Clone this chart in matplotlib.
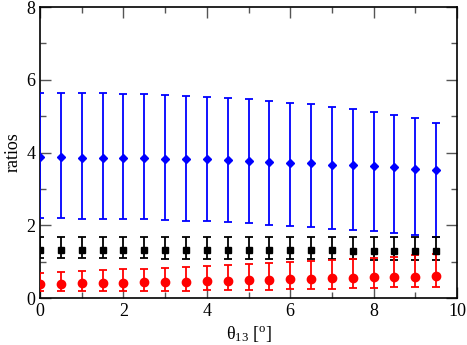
import numpy as np
import matplotlib
matplotlib.use('Agg')
import matplotlib.pyplot as plt
from matplotlib.ticker import MultipleLocator

plt.rcParams['font.family'] = ['Liberation Serif', 'DejaVu Serif']
plt.rcParams['mathtext.fontset'] = 'custom'
plt.rcParams['mathtext.rm'] = 'Liberation Serif'
plt.rcParams['mathtext.it'] = 'Liberation Serif:italic'

# theta_13 in degrees
theta = [0, 0.5, 1, 1.5, 2, 2.5, 3, 3.5, 4, 4.5, 5, 5.5, 6, 6.5, 7, 7.5, 8, 8.5, 9, 9.5]

# blue diamonds
blue_val = [3.87, 3.87, 3.86, 3.86, 3.85, 3.84, 3.83, 3.82, 3.81, 3.79,
            3.77, 3.75, 3.72, 3.70, 3.67, 3.65, 3.62, 3.59, 3.55, 3.51]
blue_hi = [5.64, 5.64, 5.64, 5.63, 5.62, 5.60, 5.58, 5.56, 5.53, 5.50,
           5.46, 5.42, 5.37, 5.32, 5.26, 5.20, 5.12, 5.04, 4.94, 4.80]
blue_lo = [2.19, 2.19, 2.18, 2.18, 2.17, 2.16, 2.15, 2.13, 2.11, 2.08,
           2.05, 2.02, 1.98, 1.94, 1.90, 1.87, 1.84, 1.80, 1.74, 1.68]

# black squares
black_val = [1.33, 1.33, 1.33, 1.33, 1.33, 1.33, 1.33, 1.32, 1.32, 1.32,
             1.32, 1.32, 1.31, 1.31, 1.31, 1.30, 1.30, 1.30, 1.29, 1.29]
black_hi = [1.68, 1.68, 1.68, 1.68, 1.68, 1.68, 1.68, 1.68, 1.68, 1.68,
            1.68, 1.68, 1.68, 1.68, 1.68, 1.68, 1.68, 1.68, 1.68, 1.68]
black_lo = [1.09, 1.09, 1.09, 1.09, 1.09, 1.09, 1.08, 1.08, 1.08, 1.08,
            1.07, 1.07, 1.07, 1.06, 1.06, 1.06, 1.05, 1.05, 1.04, 1.04]

# red circles
red_val = [0.38, 0.39, 0.40, 0.41, 0.42, 0.43, 0.44, 0.45, 0.47, 0.48,
           0.49, 0.50, 0.51, 0.53, 0.54, 0.55, 0.57, 0.58, 0.59, 0.61]
red_hi = [0.70, 0.72, 0.74, 0.77, 0.79, 0.81, 0.83, 0.86, 0.88, 0.91,
          0.93, 0.96, 0.98, 1.01, 1.04, 1.07, 1.11, 1.14, 1.17, 1.20]
red_lo = [0.19, 0.19, 0.19, 0.19, 0.19, 0.20, 0.20, 0.20, 0.21, 0.21,
          0.22, 0.23, 0.24, 0.25, 0.26, 0.27, 0.28, 0.29, 0.30, 0.31]

fig = plt.figure(figsize=(4.67, 3.45), dpi=100)
ax = fig.add_axes([0.0857, 0.1362, 0.8929, 0.8435])


def draw(val, hi, lo, color, marker, ms):
    val = np.array(val)
    err = [val - np.array(lo), np.array(hi) - val]
    ax.errorbar(theta, val, yerr=err, fmt=marker, color=color, ms=ms,
                elinewidth=1.3, capsize=3, capthick=1.3, zorder=3)


draw(blue_val, blue_hi, blue_lo, '#0000ff', 'D', 4)
draw(black_val, black_hi, black_lo, 'black', 's', 4.3)
draw(red_val, red_hi, red_lo, '#ff0000', 'o', 6)

ax.set_xlim(0, 10)
ax.set_ylim(0, 8)
ax.xaxis.set_major_locator(MultipleLocator(2))
ax.xaxis.set_minor_locator(MultipleLocator(1))
ax.yaxis.set_major_locator(MultipleLocator(2))
ax.yaxis.set_minor_locator(MultipleLocator(1))
ax.tick_params(which='both', direction='in', top=True, right=True,
               labelsize=13, width=1, color='#555555')
ax.tick_params(which='major', length=8)
ax.tick_params(which='minor', length=4)
for s in ax.spines.values():
    s.set_linewidth(1.2)

ax.set_xlabel('θ$_{13}$ [$^{\\rm o}$]', fontsize=13, labelpad=3)
ax.set_ylabel('ratios', fontsize=13, labelpad=3)

fig.savefig('out.png', dpi=100)
